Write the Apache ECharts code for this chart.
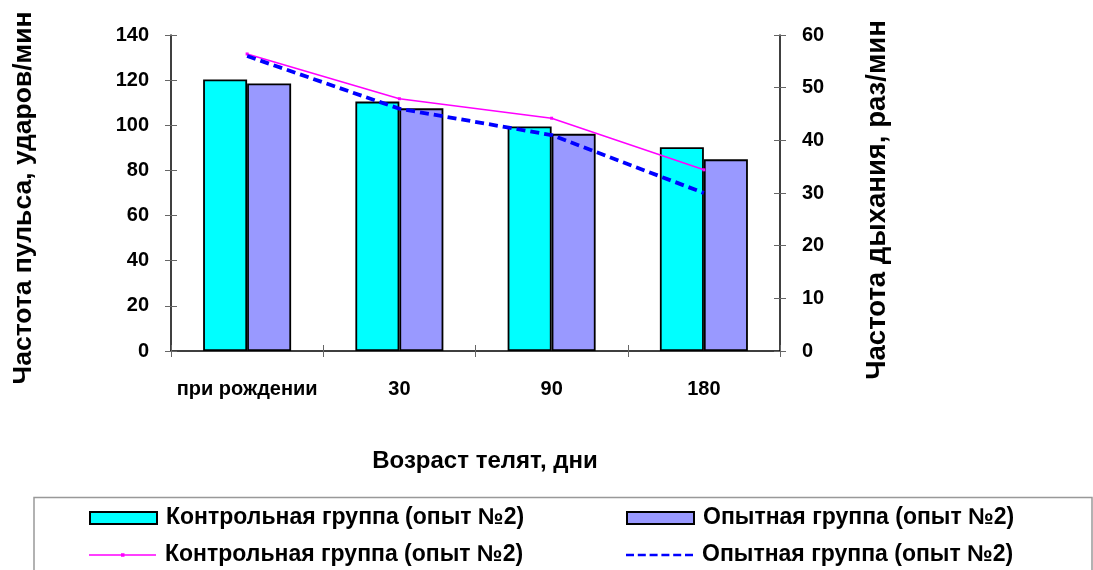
<!DOCTYPE html>
<html>
<head>
<meta charset="utf-8">
<script src="https://cdn.jsdelivr.net/npm/echarts@6/dist/echarts.min.js"></script>
<style>
  html, body { margin: 0; padding: 0; background: #fff; }
  #chart { width: 1093px; height: 570px; }
</style>
</head>
<body>
<div id="chart"></div>
<script>
// Calf age groups
const categories = ['при рождении', '30', '90', '180'];

// Pulse rate, beats/min (left axis)
const pulseControl = [120.3, 110.5, 99.5, 90.3];
const pulseTrial = [118.5, 107.5, 96.2, 84.9];

// Breathing rate, breaths/min (right axis)
const breathControl = [56.4, 47.9, 44.2, 34.4];
const breathTrial = [56.0, 46.0, 41.0, 30.0];

// Axis tick settings
const pulseTicks = { min: 0, max: 140, interval: 20 };
const breathTicks = { min: 0, max: 60, interval: 10 };

const seriesNames = {
  control: 'Контрольная группа (опыт №2)',
  trial: 'Опытная группа (опыт №2)'
};

const FONT = '"Liberation Sans", Arial, sans-serif';
const TICK_COLOR = '#666';

const chart = echarts.init(document.getElementById('chart'), null, { renderer: 'canvas' });

const labelStyle = { color: '#000', fontWeight: 'bold', fontSize: 20, fontFamily: FONT };

function valueAxis(ticks, position, inside) {
  return {
    type: 'value',
    position: position,
    min: ticks.min,
    max: ticks.max,
    interval: ticks.interval,
    splitLine: { show: false },
    axisLine: { show: !inside, lineStyle: { color: '#000', width: 1.5 } },
    axisTick: { show: true, inside: inside, length: 6, lineStyle: { color: TICK_COLOR, width: 1 } },
    axisLabel: inside ? { show: false } : Object.assign({ margin: 22 }, labelStyle)
  };
}

const legendText = {
  color: '#000', fontWeight: 'bold', fontSize: 23, lineHeight: 24,
  fontFamily: FONT, padding: [0, 0, 0, 4]
};

// Legend glyphs for the line series: a thin stroke with a small centre marker,
// and a row of dashes. Corner specks keep the path box at the full icon size.
const CORNERS = 'M0,0h0.05v0.05h-0.05Z M66.95,11.95h0.05v0.05h-0.05Z ';
const ICON_SOLID = 'path://' + CORNERS + 'M0,5.2H67V6.8H0Z M32,4.3H35.5V7.7H32Z';
const ICON_DASHED = 'path://' + CORNERS +
  'M0,4.7H8V7.3H0Z M11.8,4.7H19.8V7.3H11.8Z M23.6,4.7H31.6V7.3H23.6Z ' +
  'M35.4,4.7H43.4V7.3H35.4Z M47.2,4.7H55.2V7.3H47.2Z M59,4.7H67V7.3H59Z';

function legendAt(name, icon, left, top) {
  return {
    data: [{ name: name, icon: icon }],
    left: left,
    top: top,
    itemWidth: 67,
    itemHeight: 12,
    padding: 0,
    selectedMode: false,
    textStyle: legendText,
    formatter: function (n) { return n.trim(); }
  };
}

function titleStyle(size) {
  return { fill: '#000', fontWeight: 'bold', fontSize: size, fontFamily: FONT, textAlign: 'center', textVerticalAlign: 'middle' };
}

const option = {
  animation: false,
  backgroundColor: '#fff',
  grid: { left: 171, right: 313, top: 35, bottom: 219 },
  xAxis: [
    {
      type: 'category',
      data: categories,
      position: 'bottom',
      axisLine: { lineStyle: { color: '#000', width: 1.5 } },
      axisTick: { show: true, length: 6, lineStyle: { color: TICK_COLOR, width: 1 } },
      axisLabel: { interval: 0, margin: 28, fontSize: 20, color: '#000', fontWeight: 'bold', fontFamily: FONT }
    },
    {
      type: 'category',
      data: categories,
      position: 'bottom',
      axisLine: { show: false },
      axisTick: { show: true, inside: true, length: 6, lineStyle: { color: TICK_COLOR, width: 1 } },
      axisLabel: { show: false }
    }
  ],
  yAxis: [
    valueAxis(pulseTicks, 'left', false),
    valueAxis(breathTicks, 'right', false),
    valueAxis(pulseTicks, 'left', true),
    valueAxis(breathTicks, 'right', true)
  ],
  legend: [
    legendAt(seriesNames.control, 'rect', 89, 506),
    legendAt(seriesNames.trial, 'rect', 626, 506),
    legendAt(seriesNames.control + ' ', ICON_SOLID, 89, 543),
    legendAt(seriesNames.trial + ' ', ICON_DASHED, 626, 543)
  ],
  graphic: [
    {
      type: 'rect',
      shape: { x: 34, y: 497.5, width: 1058, height: 100 },
      style: { fill: 'none', stroke: '#999', lineWidth: 1.5 },
      z: -1
    },
    {
      type: 'text',
      x: 485, y: 461,
      style: Object.assign({ text: 'Возраст телят, дни' }, titleStyle(24))
    },
    {
      type: 'text',
      x: 24, y: 198, rotation: Math.PI / 2,
      style: Object.assign({ text: 'Частота пульса, ударов/мин' }, titleStyle(26.5))
    },
    {
      type: 'text',
      x: 877, y: 200, rotation: Math.PI / 2,
      style: Object.assign({ text: 'Частота дыхания, раз/мин' }, titleStyle(27.5))
    }
  ],
  series: [
    {
      name: seriesNames.control,
      type: 'bar',
      yAxisIndex: 0,
      barWidth: 44,
      barGap: '0%',
      data: pulseControl,
      itemStyle: { color: '#00FFFF', borderColor: '#000', borderWidth: 1.8 }
    },
    {
      name: seriesNames.trial,
      type: 'bar',
      yAxisIndex: 0,
      barWidth: 44,
      barGap: '0%',
      data: pulseTrial,
      itemStyle: { color: '#9999FF', borderColor: '#000', borderWidth: 1.8 }
    },
    {
      name: seriesNames.control + ' ',
      type: 'line',
      yAxisIndex: 1,
      data: breathControl,
      symbol: 'rect',
      symbolSize: 3,
      itemStyle: { color: '#FF00FF' },
      lineStyle: { color: '#FF00FF', width: 1.5 },
      z: 3
    },
    {
      name: seriesNames.trial + ' ',
      type: 'line',
      yAxisIndex: 1,
      data: breathTrial,
      symbol: 'none',
      itemStyle: { color: '#0000FF' },
      lineStyle: { color: '#0000FF', width: 3.8, type: [9, 5] },
      z: 4
    }
  ]
};

chart.setOption(option);
</script>
</body>
</html>
